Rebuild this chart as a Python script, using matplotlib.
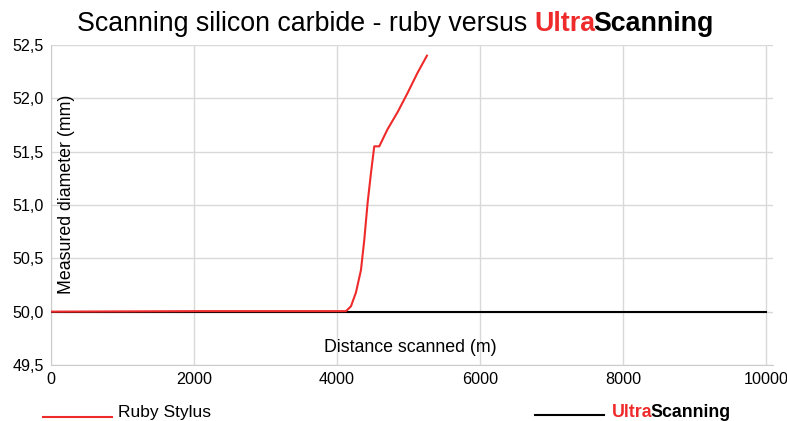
import matplotlib
matplotlib.use("Agg")
import matplotlib.pyplot as plt
from matplotlib.lines import Line2D
from matplotlib.ticker import FuncFormatter

plt.rcParams['font.family'] = ['Liberation Sans', 'DejaVu Sans']

# ruby stylus readings (distance m, diameter mm)
ruby_x = [0, 2100, 4126, 4196, 4266, 4336, 4382, 4429, 4476, 4522, 4592,
          4708, 4848, 4988, 5128, 5259]
ruby_y = [50.0, 50.005, 50.005, 50.05, 50.18, 50.39, 50.67, 51.02, 51.30, 51.55, 51.55,
          51.71, 51.87, 52.05, 52.24, 52.40]

# UltraScanning readings
ultra_x = [0, 10000]
ultra_y = [50.0, 50.0]

x_ticks = [0, 2000, 4000, 6000, 8000, 10000]
y_ticks = [49.5, 50.0, 50.5, 51.0, 51.5, 52.0, 52.5]

RED = "#ee2a2a"

fig = plt.figure(figsize=(7.87, 4.21), dpi=100)
ax = fig.add_axes([51 / 787, 1 - 365 / 421, (773 - 51) / 787, (365 - 45) / 421])

ax.plot(ultra_x, ultra_y, color="black", lw=1.5, zorder=3)
ax.plot(ruby_x, ruby_y, color=RED, lw=1.5, zorder=4)

ax.set_xlim(0, 10100)
ax.set_ylim(49.5, 52.5)
ax.set_xticks(x_ticks)
ax.set_yticks(y_ticks)
ax.yaxis.set_major_formatter(FuncFormatter(lambda v, p: f"{v:.1f}".replace(".", ",")))
ax.grid(True, color="#d9d9d9", lw=1)
ax.set_axisbelow(True)
for s in ["top", "right"]:
    ax.spines[s].set_visible(False)
for s in ["left", "bottom"]:
    ax.spines[s].set_color("#cccccc")
ax.tick_params(length=0, labelsize=11.6, pad=5)

ax.text(0.0208, 0.534, "Measured diameter (mm)", transform=ax.transAxes, rotation=90,
        ha="center", va="center", fontsize=12.8)
ax.text(0.497, 0.056, "Distance scanned (m)", transform=ax.transAxes,
        ha="center", va="center", fontsize=12.8)

fig.canvas.draw()
renderer = fig.canvas.get_renderer()


def text_run(x, y, parts, fontsize):
    # draw consecutive text pieces on one baseline, in pixels
    # each part: (text, colour, weight, pixels to pull the next part back)
    for s, color, weight, tight in parts:
        t = fig.text(x / 787, 1 - y / 421, s, color=color, fontweight=weight,
                     fontsize=fontsize, ha="left", va="baseline")
        bb = t.get_window_extent(renderer)
        x += bb.width - tight


text_run(77, 31, [("Scanning silicon carbide - ruby versus ", "black", "normal", 0),
                  ("Ultra", RED, "bold", 2.5),
                  ("Scanning", "black", "bold", 0)], 19.3)

fig.add_artist(Line2D([43 / 787, 112 / 787], [1 - 417 / 421] * 2, color=RED, lw=1.5))
text_run(118, 416.5, [("Ruby Stylus", "black", "normal", 0)], 12.5)

fig.add_artist(Line2D([535 / 787, 604 / 787], [1 - 415 / 421] * 2, color="black", lw=1.5))
text_run(612, 417, [("Ultra", RED, "bold", 2), ("Scanning", "black", "bold", 0)], 12.8)

fig.savefig("out.png", dpi=100)
